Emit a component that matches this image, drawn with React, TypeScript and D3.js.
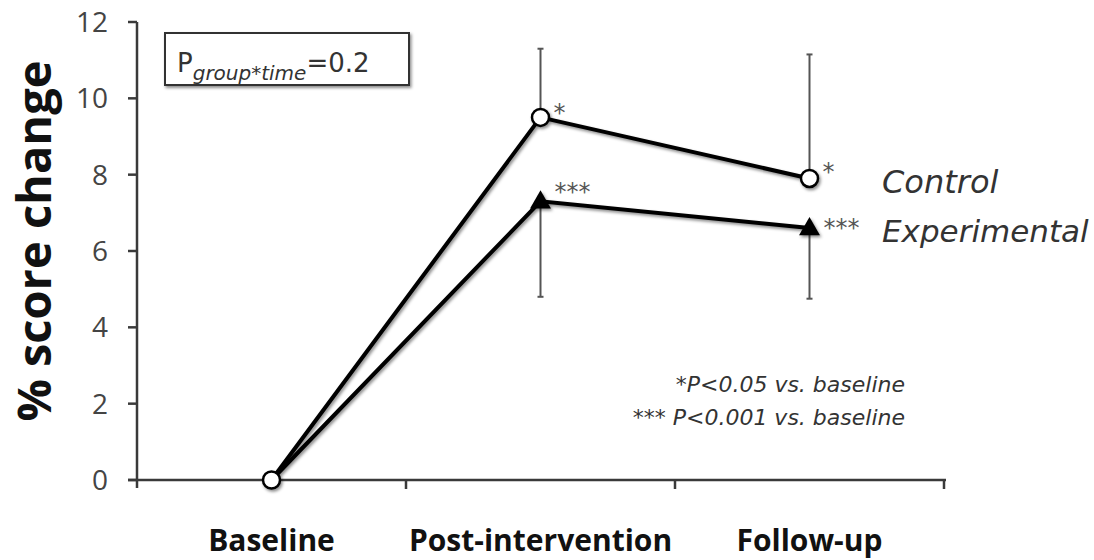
import React from "react";
import * as d3 from "d3";

const categories = ["Baseline", "Post-intervention", "Follow-up"];
const controlValues = [0, 9.5, 7.9];
const controlUpper = [0, 11.3, 11.15];
const experimentalValues = [0, 7.3, 6.6];
const experimentalLower = [0, 4.8, 4.75];
const controlStars = ["", "*", "*"];
const experimentalStars = ["", "***", "***"];
const yTicks = [0, 2, 4, 6, 8, 10, 12];

const W = 1094;
const H = 560;

export default function App() {
  const x = d3.scaleBand<string>().domain(categories).range([137, 944]).padding(0);
  const y = d3.scaleLinear().domain([0, 12]).range([480, 22]);
  const cx = (c: string) => (x(c) as number) + x.bandwidth() / 2;
  const line = d3
    .line<number>()
    .x((_, i) => cx(categories[i]))
    .y((d) => y(d));
  const tri = d3.symbol().type(d3.symbolTriangle).size(190)() as string;
  const axisColor = "#3a3a3a";
  const sans = "'Open Sans', 'DejaVu Sans', sans-serif";
  const geo = "'DejaVu Sans', sans-serif";
  const cStarDy = [0, 4, 2];
  const eStarDy = [0, -1, 8];

  return (
    <svg
      width={W}
      height={H}
      style={{ position: "absolute", left: 0, top: 0, background: "#fff" }}
      fontFamily={geo}
    >
      <defs>
        <filter id="sh" x="-20%" y="-20%" width="140%" height="140%">
          <feDropShadow dx="1.5" dy="2" stdDeviation="1.5" floodColor="#000" floodOpacity="0.45" />
        </filter>
      </defs>
      <rect width={W} height={H} fill="#fff" />

      {/* y axis */}
      <line x1={137} x2={137} y1={y(12)} y2={488} stroke={axisColor} strokeWidth={2.5} />
      {yTicks.map((t) => (
        <g key={t}>
          <line x1={128} x2={137} y1={y(t)} y2={y(t)} stroke={axisColor} strokeWidth={2.5} />
          <text
            x={108}
            y={y(t)}
            dy="0.36em"
            textAnchor="end"
            fontSize={28}
            fill="#444"
            fontFamily={sans}
          >
            {t}
          </text>
        </g>
      ))}
      {/* x axis */}
      <line x1={128} x2={946} y1={y(0)} y2={y(0)} stroke={axisColor} strokeWidth={2.5} />
      {categories.map((c) => (
        <line
          key={"t" + c}
          x1={(x(c) as number) + x.bandwidth()}
          x2={(x(c) as number) + x.bandwidth()}
          y1={y(0)}
          y2={y(0) + 9}
          stroke={axisColor}
          strokeWidth={2.5}
        />
      ))}
      {categories.map((c) => (
        <text
          key={"l" + c}
          x={cx(c)}
          y={551}
          textAnchor="middle"
          fontSize={30}
          fontWeight="bold"
          fill="#111"
          fontFamily={sans}
        >
          {c}
        </text>
      ))}

      {/* y label */}
      <text
        transform={`translate(51,241) rotate(-90)`}
        textAnchor="middle"
        fontSize={47}
        fontWeight="bold"
        fill="#111"
        fontFamily={sans}
      >
        % score change
      </text>

      {/* error bars */}
      {categories.map((c, i) =>
        i === 0 ? null : (
          <g key={"e" + c} stroke="#555" strokeWidth={2}>
            <line x1={cx(c)} x2={cx(c)} y1={y(controlValues[i])} y2={y(controlUpper[i])} />
            <line x1={cx(c) - 3} x2={cx(c) + 3} y1={y(controlUpper[i])} y2={y(controlUpper[i])} />
            <line x1={cx(c)} x2={cx(c)} y1={y(experimentalValues[i])} y2={y(experimentalLower[i])} />
            <line
              x1={cx(c) - 3}
              x2={cx(c) + 3}
              y1={y(experimentalLower[i])}
              y2={y(experimentalLower[i])}
            />
          </g>
        )
      )}

      {/* lines */}
      <g filter="url(#sh)">
        <path d={line(experimentalValues) as string} fill="none" stroke="#000" strokeWidth={4} />
        <path d={line(controlValues) as string} fill="none" stroke="#000" strokeWidth={4} />
        {categories.map((c, i) =>
          i === 0 ? null : (
            <path
              key={"tri" + c}
              d={tri}
              transform={`translate(${cx(c)},${y(experimentalValues[i]) + 1})`}
              fill="#000"
            />
          )
        )}
        {categories.map((c, i) => (
          <circle
            key={"c" + c}
            cx={cx(c)}
            cy={y(controlValues[i])}
            r={8.5}
            fill="#fff"
            stroke="#000"
            strokeWidth={2.5}
          />
        ))}
      </g>

      {/* significance stars */}
      {categories.map((c, i) => (
        <g key={"s" + c} fill="#555" fontSize={24}>
          {controlStars[i] && (
            <text x={cx(c) + 13} y={y(controlValues[i]) + cStarDy[i]}>
              {controlStars[i]}
            </text>
          )}
          {experimentalStars[i] && (
            <text x={cx(c) + 14} y={y(experimentalValues[i]) + eStarDy[i]}>
              {experimentalStars[i]}
            </text>
          )}
        </g>
      ))}

      {/* legend labels */}
      <text x={882} y={193} fontSize={32} fontStyle="italic" fill="#333">
        Control
      </text>
      <text x={882} y={242} fontSize={31} fontStyle="italic" fill="#333">
        Experimental
      </text>

      {/* box */}
      <rect x={165} y={33} width={244} height={52} fill="#fff" stroke="#333" strokeWidth={2} filter="url(#sh)" />
      <text x={177} y={72} fill="#333" fontSize={26}>
        P
        <tspan fontSize={20} fontStyle="italic" dy={8}>
          group*time
        </tspan>
        <tspan dy={-8}>=0.2</tspan>
      </text>

      {/* notes */}
      <text x={905} y={392} textAnchor="end" fontSize={22} fontStyle="italic" fill="#333">
        *P&lt;0.05 vs. baseline
      </text>
      <text x={905} y={425} textAnchor="end" fontSize={22} fontStyle="italic" fill="#333">
        *** P&lt;0.001 vs. baseline
      </text>
    </svg>
  );
}
